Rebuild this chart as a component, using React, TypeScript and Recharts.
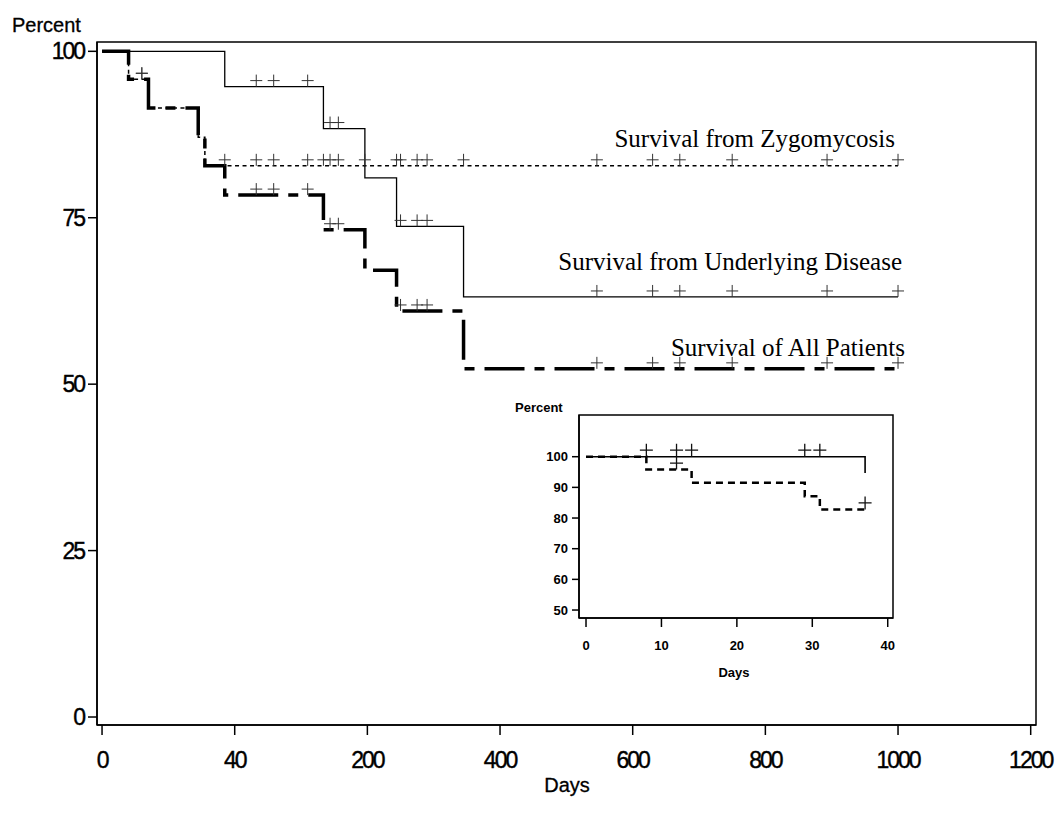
import React from 'react';
import { ComposedChart, Line, Scatter, XAxis, YAxis, ReferenceArea } from 'recharts';

// ---------- axis definitions ----------
// main x axis is a broken scale: every tick interval has the same length
const xTickDays = [0, 40, 200, 400, 600, 800, 1000, 1200];
const xTickLabels = ['0', '40', '200', '400', '600', '800', '1000', '1200'];
const yTickValues = [0, 25, 50, 75, 100];

const insetXTicks = [0, 10, 20, 30, 40];
const insetYTicks = [50, 60, 70, 80, 90, 100];

// ---------- Survival from Zygomycosis ----------
const zygoDays = [0, 8, 14, 29, 31, 1000];
const zygoPct = [100, 95.8, 91.5, 87.1, 82.8, 82.8];
const zygoCensorDays = [12, 37, 66, 87, 128, 147, 155, 165, 197, 244, 250, 275, 290, 345, 546, 630, 671, 750, 893, 1000];
const zygoCensorPct = [95.8, 82.8, 82.8, 82.8, 82.8, 82.8, 82.8, 82.8, 82.8, 82.8, 82.8, 82.8, 82.8, 82.8, 82.8, 82.8, 82.8, 82.8, 82.8, 82.8];

// ---------- Survival from Underlying Disease ----------
const undDays = [0, 37, 147, 197, 244, 345, 1000];
const undPct = [100, 94.7, 88.4, 81.0, 73.7, 63.1, 63.1];
const undCensorDays = [8, 12, 14, 29, 31, 66, 87, 128, 155, 165, 250, 275, 290, 546, 630, 671, 750, 893, 1000];
const undCensorPct = [100, 100, 100, 100, 100, 94.7, 94.7, 94.7, 88.4, 88.4, 73.7, 73.7, 73.7, 63.1, 63.1, 63.1, 63.1, 63.1, 63.1];

// ---------- Survival of All Patients ----------
const allDays = [0, 8, 14, 29, 31, 37, 147, 197, 244, 345, 1000];
const allPct = [100, 95.8, 91.5, 87.1, 82.8, 78.4, 73.2, 67.1, 61.0, 52.3, 52.3];
const allCensorDays = [12, 66, 87, 128, 155, 165, 250, 275, 290, 546, 630, 671, 750, 893, 1000];
const allCensorPct = [95.8, 78.4, 78.4, 78.4, 73.2, 73.2, 61.0, 61.0, 61.0, 52.3, 52.3, 52.3, 52.3, 52.3, 52.3];

// inset shows the first days of the Zygomycosis and Underlying Disease curves
const INSET_END = 37;

// ---------- helpers ----------
function toU(d: number): number {
  for (let i = 0; i < xTickDays.length - 1; i++) {
    if (d <= xTickDays[i + 1]) {
      return i + (d - xTickDays[i]) / (xTickDays[i + 1] - xTickDays[i]);
    }
  }
  return xTickDays.length - 1;
}

function mainRows(days: number[], pct: number[]) {
  return days.map((d, i) => ({ u: toU(d), v: pct[i] }));
}

// censor marks sitting on the 100% line are not shown in the main panel
function mainCensorRows(days: number[], pct: number[]) {
  return mainRows(days, pct).filter((r) => r.v < 100);
}

function insetSteps(days: number[], pct: number[]) {
  const rows: { u: number; v: number }[] = [];
  days.forEach((d, i) => {
    if (d <= INSET_END) rows.push({ u: d, v: pct[i] });
  });
  const last = rows[rows.length - 1];
  if (last.u < INSET_END) rows.push({ u: INSET_END, v: last.v });
  return rows;
}

function insetCensors(days: number[], pct: number[]) {
  const rows: { u: number; v: number }[] = [];
  days.forEach((d, i) => {
    if (d <= INSET_END) rows.push({ u: d, v: pct[i] });
  });
  return rows;
}

const makePlus = (size: number, off: number, sw: number, color: string) => (props: any) => {
  const { cx, cy } = props;
  if (cx == null || cy == null) return <g />;
  const y = cy - off;
  return (
    <path
      d={`M${cx - size / 2},${y}H${cx + size / 2}M${cx},${y - size / 2}V${y + size / 2}`}
      stroke={color}
      strokeWidth={sw}
      fill="none"
    />
  );
};

const mainPlus = makePlus(12, 6, 1, '#333');
const insetPlus = makePlus(13, 6.5, 1.3, '#111');

const SANS = "'Liberation Sans', Arial, Helvetica, sans-serif";
const SERIF = "'Liberation Serif', 'Times New Roman', serif";

const MainXTick = (props: any) => {
  const { x, y, payload } = props;
  const idx = Math.round(payload.value);
  return (
    <text x={x} y={y} dy="0.71em" textAnchor="middle" fontFamily={SANS} fontSize={23} letterSpacing={-2} fill="#000" stroke="#000" strokeWidth={0.4}>
      {xTickLabels[idx]}
    </text>
  );
};

const MainYTick = (props: any) => {
  const { x, y, payload } = props;
  return (
    <text x={x} y={y} dy="0.355em" textAnchor="end" fontFamily={SANS} fontSize={23} letterSpacing={-2} fill="#000" stroke="#000" strokeWidth={0.4}>
      {payload.value}
    </text>
  );
};

const InsetXTick = (props: any) => {
  const { x, y, payload } = props;
  return (
    <text x={x} y={y} dy="0.71em" textAnchor="middle" fontFamily={SANS} fontWeight="bold" fontSize={13} fill="#000">
      {payload.value}
    </text>
  );
};

const InsetYTick = (props: any) => {
  const { x, y, payload } = props;
  return (
    <text x={x} y={y} dy="0.355em" textAnchor="end" fontFamily={SANS} fontWeight="bold" fontSize={13} fill="#000">
      {payload.value}
    </text>
  );
};

const mainXDomain: [number, number] = [-0.038, 7.04];
const mainYDomain: [number, number] = [-1.2, 101.4];
const insetXDomain: [number, number] = [-0.93, 40.7];
const insetYDomain: [number, number] = [47.4, 113.6];

export default function App() {
  const zygo = mainRows(zygoDays, zygoPct);
  const und = mainRows(undDays, undPct);
  const all = mainRows(allDays, allPct);
  const zygoC = mainCensorRows(zygoCensorDays, zygoCensorPct);
  const undC = mainCensorRows(undCensorDays, undCensorPct);
  const allC = mainCensorRows(allCensorDays, allCensorPct);

  const iZygo = insetSteps(zygoDays, zygoPct);
  const iUnd = insetSteps(undDays, undPct);
  const iZygoC = insetCensors(zygoCensorDays, zygoCensorPct);
  const iUndC = insetCensors(undCensorDays, undCensorPct);

  return (
    <div style={{ position: 'absolute', left: 0, top: 0, width: 1055, height: 822, background: '#fff' }}>
      <div style={{ position: 'absolute', left: 0, top: 0 }}>
        <ComposedChart width={1055} height={822} margin={{ top: 42, right: 19, bottom: 0, left: 0 }}>
          <XAxis
            type="number"
            dataKey="u"
            domain={mainXDomain}
            allowDataOverflow
            ticks={xTickDays.map((_, i) => i)}
            tick={<MainXTick />}
            tickSize={10}
            tickMargin={17}
            height={97}
            axisLine={{ stroke: '#000', strokeWidth: 1.5 }}
            tickLine={{ stroke: '#000', strokeWidth: 1.5 }}
            interval={0}
          />
          <YAxis
            type="number"
            dataKey="v"
            domain={mainYDomain}
            allowDataOverflow
            ticks={yTickValues}
            tick={<MainYTick />}
            tickSize={9}
            tickMargin={4}
            width={97}
            axisLine={{ stroke: '#000', strokeWidth: 1.5 }}
            tickLine={{ stroke: '#000', strokeWidth: 1.5 }}
            interval={0}
          />
          <ReferenceArea
            x1={mainXDomain[0]}
            x2={mainXDomain[1]}
            y1={mainYDomain[0]}
            y2={mainYDomain[1]}
            fill="none"
            stroke="#000"
            strokeWidth={1.5}
            ifOverflow="visible"
          />
          <Line data={zygo} dataKey="v" type="stepAfter" stroke="#000" strokeWidth={1.5} strokeDasharray="4 3.5" dot={false} isAnimationActive={false} />
          <Line data={und} dataKey="v" type="stepAfter" stroke="#000" strokeWidth={1.3} dot={false} isAnimationActive={false} />
          <Line data={all} dataKey="v" type="stepAfter" stroke="#000" strokeWidth={3.5} strokeDasharray="40 10 10 10" dot={false} isAnimationActive={false} />
          <Scatter data={zygoC} dataKey="v" shape={mainPlus} isAnimationActive={false} />
          <Scatter data={undC} dataKey="v" shape={mainPlus} isAnimationActive={false} />
          <Scatter data={allC} dataKey="v" shape={mainPlus} isAnimationActive={false} />
        </ComposedChart>
      </div>

      <div style={{ position: 'absolute', left: 500, top: 390 }}>
        <ComposedChart width={410} height={300} margin={{ top: 25, right: 17, bottom: 0, left: 0 }}>
          <XAxis
            type="number"
            dataKey="u"
            domain={insetXDomain}
            allowDataOverflow
            ticks={insetXTicks}
            tick={<InsetXTick />}
            tickSize={9}
            tickMargin={14}
            height={72}
            axisLine={{ stroke: '#000', strokeWidth: 1.5 }}
            tickLine={{ stroke: '#000', strokeWidth: 1.5 }}
            interval={0}
          />
          <YAxis
            type="number"
            dataKey="v"
            domain={insetYDomain}
            allowDataOverflow
            ticks={insetYTicks}
            tick={<InsetYTick />}
            tickSize={7}
            tickMargin={4}
            width={79}
            axisLine={{ stroke: '#000', strokeWidth: 1.5 }}
            tickLine={{ stroke: '#000', strokeWidth: 1.5 }}
            interval={0}
          />
          <ReferenceArea
            x1={insetXDomain[0]}
            x2={insetXDomain[1]}
            y1={insetYDomain[0]}
            y2={insetYDomain[1]}
            fill="#fff"
            stroke="#000"
            strokeWidth={1.5}
            ifOverflow="visible"
          />
          <Line data={iUnd} dataKey="v" type="stepAfter" stroke="#000" strokeWidth={1.6} dot={false} isAnimationActive={false} />
          <Line data={iZygo} dataKey="v" type="stepAfter" stroke="#000" strokeWidth={2.5} strokeDasharray="7 5" dot={false} isAnimationActive={false} />
          <Scatter data={iUndC} dataKey="v" shape={insetPlus} isAnimationActive={false} />
          <Scatter data={iZygoC} dataKey="v" shape={insetPlus} isAnimationActive={false} />
        </ComposedChart>
      </div>

      <svg width={1055} height={822} style={{ position: 'absolute', left: 0, top: 0, pointerEvents: 'none' }}>
        <text x={12} y={32} fontFamily={SANS} fontSize={20} fill="#000" stroke="#000" strokeWidth={0.3}>Percent</text>
        <text x={567} y={792} textAnchor="middle" fontFamily={SANS} fontSize={20} fill="#000" stroke="#000" strokeWidth={0.3}>Days</text>
        <text x={895} y={147} textAnchor="end" fontFamily={SERIF} fontSize={25} fill="#000">Survival from Zygomycosis</text>
        <text x={902} y={270} textAnchor="end" fontFamily={SERIF} fontSize={25} fill="#000">Survival from Underlying Disease</text>
        <text x={905} y={356} textAnchor="end" fontFamily={SERIF} fontSize={25} fill="#000">Survival of All Patients</text>
        <text x={515} y={412} fontFamily={SANS} fontWeight="bold" fontSize={13} fill="#000">Percent</text>
        <text x={734} y={677} textAnchor="middle" fontFamily={SANS} fontWeight="bold" fontSize={13} fill="#000">Days</text>
      </svg>
    </div>
  );
}
